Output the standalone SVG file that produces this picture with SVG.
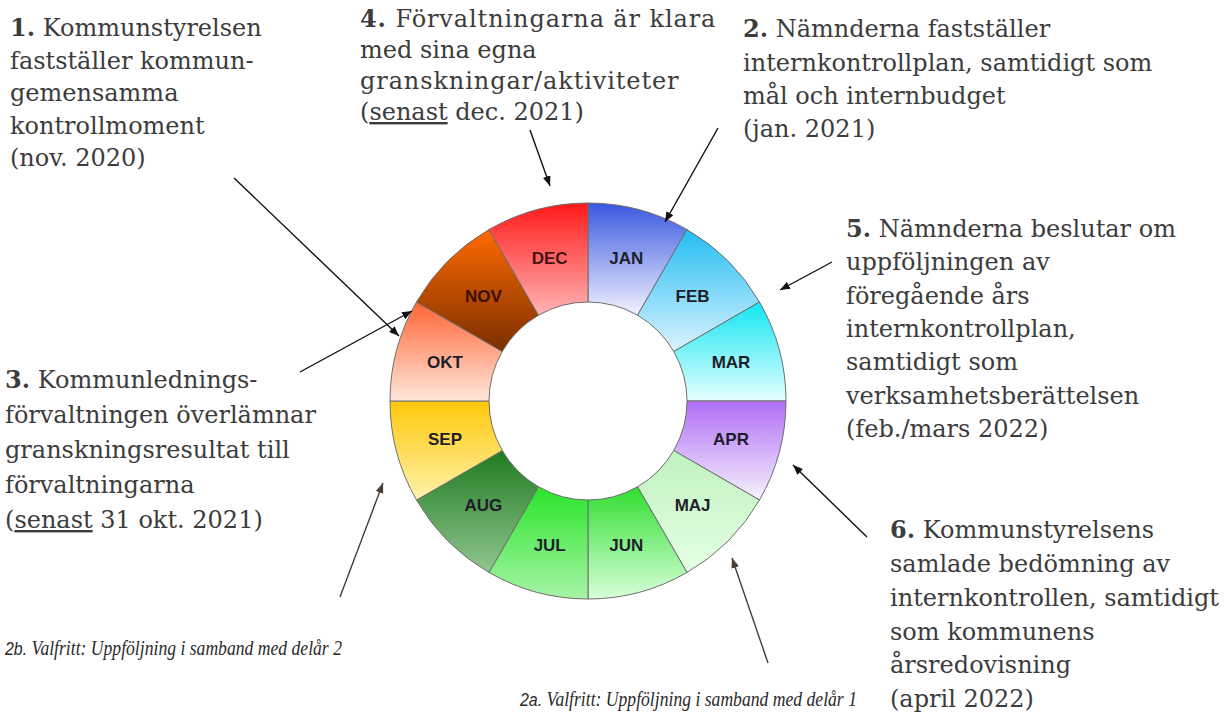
<svg xmlns="http://www.w3.org/2000/svg" width="1229" height="712" viewBox="0 0 1229 712">
<style>
.t{font-family:"DejaVu Serif","Liberation Serif",serif;font-size:24px;fill:#3c3c3c}
.b{font-weight:bold}
.u{text-decoration:underline}
.w{letter-spacing:0.9px}
.i{font-family:"Liberation Serif",serif;font-style:italic;font-size:21px;fill:#2a2a2a}
.is{font-family:"Liberation Sans",Arial,sans-serif;font-size:19px}
.m{font-family:"Liberation Sans",Arial,sans-serif;font-weight:bold;font-size:17px;fill:#1e1e2a;text-anchor:middle;dominant-baseline:central}
.seg{stroke:#6e6e6e;stroke-width:1}
.ar{fill:none;stroke:#111;stroke-width:1.4}
.ar2{fill:none;stroke:#4a3c34;stroke-width:1.4}
</style>
<defs>
<marker id="ah" viewBox="0 0 10 8" markerWidth="10" markerHeight="8" refX="10" refY="4" orient="auto" markerUnits="userSpaceOnUse"><path d="M0,0L10,4L0,8z" fill="#111"/></marker>
<marker id="ah2" viewBox="0 0 10 8" markerWidth="10" markerHeight="8" refX="10" refY="4" orient="auto" markerUnits="userSpaceOnUse"><path d="M0,0L10,4L0,8z" fill="#4a3c34"/></marker>
<linearGradient id="gJAN" x1="0" y1="0" x2="0" y2="1"><stop offset="0" stop-color="#3a58e0"/><stop offset="1" stop-color="#f2f2ff"/></linearGradient>
<linearGradient id="gFEB" x1="0" y1="0" x2="0" y2="1"><stop offset="0" stop-color="#22bdf2"/><stop offset="1" stop-color="#dcf3ff"/></linearGradient>
<linearGradient id="gMAR" x1="0" y1="0" x2="0" y2="1"><stop offset="0" stop-color="#10e6f2"/><stop offset="1" stop-color="#e8ffff"/></linearGradient>
<linearGradient id="gAPR" x1="0" y1="0" x2="0" y2="1"><stop offset="0" stop-color="#b06ef4"/><stop offset="1" stop-color="#f6f2ff"/></linearGradient>
<linearGradient id="gMAJ" x1="0" y1="0" x2="0" y2="1"><stop offset="0" stop-color="#c0f2c0"/><stop offset="1" stop-color="#e4ffe4"/></linearGradient>
<linearGradient id="gJUN" x1="0" y1="0" x2="0" y2="1"><stop offset="0" stop-color="#2fde2f"/><stop offset="1" stop-color="#daffda"/></linearGradient>
<linearGradient id="gJUL" x1="0" y1="0" x2="0" y2="1"><stop offset="0" stop-color="#28e428"/><stop offset="1" stop-color="#a8f4a8"/></linearGradient>
<linearGradient id="gAUG" x1="0" y1="0" x2="0" y2="1"><stop offset="0" stop-color="#1f7a1f"/><stop offset="1" stop-color="#90c690"/></linearGradient>
<linearGradient id="gSEP" x1="0" y1="0" x2="0" y2="1"><stop offset="0" stop-color="#ffc80a"/><stop offset="1" stop-color="#fff2aa"/></linearGradient>
<linearGradient id="gOKT" x1="0" y1="0" x2="0" y2="1"><stop offset="0" stop-color="#ff6434"/><stop offset="1" stop-color="#ffe8dc"/></linearGradient>
<linearGradient id="gNOV" x1="0" y1="0" x2="0" y2="1"><stop offset="0" stop-color="#ff6a00"/><stop offset="1" stop-color="#7a2e00"/></linearGradient>
<linearGradient id="gDEC" x1="0" y1="0" x2="0" y2="1"><stop offset="0" stop-color="#ff1818"/><stop offset="1" stop-color="#ffb4b4"/></linearGradient>
</defs>
<rect width="1229" height="712" fill="#fff"/>
<g id="wheel">
<g id="m-jan"><path class="seg" fill="url(#gJAN)" d="M588,203A198,198 0 0 1 687,229.53L637.5,315.26A99,99 0 0 0 588,302Z"/><text class="m" x="626.3" y="258">JAN</text></g>
<g id="m-feb"><path class="seg" fill="url(#gFEB)" d="M687,229.53A198,198 0 0 1 759.47,302L673.74,351.5A99,99 0 0 0 637.5,315.26Z"/><text class="m" x="692.6" y="296.4">FEB</text></g>
<g id="m-mar"><path class="seg" fill="url(#gMAR)" d="M759.47,302A198,198 0 0 1 786,401L687,401A99,99 0 0 0 673.74,351.5Z"/><text class="m" x="731" y="362.7">MAR</text></g>
<g id="m-apr"><path class="seg" fill="url(#gAPR)" d="M786,401A198,198 0 0 1 759.47,500L673.74,450.5A99,99 0 0 0 687,401Z"/><text class="m" x="731" y="439.3">APR</text></g>
<g id="m-maj"><path class="seg" fill="url(#gMAJ)" d="M759.47,500A198,198 0 0 1 687,572.47L637.5,486.74A99,99 0 0 0 673.74,450.5Z"/><text class="m" x="692.6" y="505.6">MAJ</text></g>
<g id="m-jun"><path class="seg" fill="url(#gJUN)" d="M687,572.47A198,198 0 0 1 588,599L588,500A99,99 0 0 0 637.5,486.74Z"/><text class="m" x="626.3" y="545">JUN</text></g>
<g id="m-jul"><path class="seg" fill="url(#gJUL)" d="M588,599A198,198 0 0 1 489,572.47L538.5,486.74A99,99 0 0 0 588,500Z"/><text class="m" x="549.7" y="545">JUL</text></g>
<g id="m-aug"><path class="seg" fill="url(#gAUG)" d="M489,572.47A198,198 0 0 1 416.53,500L502.26,450.5A99,99 0 0 0 538.5,486.74Z"/><text class="m" x="483.4" y="505.6">AUG</text></g>
<g id="m-sep"><path class="seg" fill="url(#gSEP)" d="M416.53,500A198,198 0 0 1 390,401L489,401A99,99 0 0 0 502.26,450.5Z"/><text class="m" x="445" y="439.3">SEP</text></g>
<g id="m-okt"><path class="seg" fill="url(#gOKT)" d="M390,401A198,198 0 0 1 416.53,302L502.26,351.5A99,99 0 0 0 489,401Z"/><text class="m" x="445" y="362.7">OKT</text></g>
<g id="m-nov"><path class="seg" fill="url(#gNOV)" d="M416.53,302A198,198 0 0 1 489,229.53L538.5,315.26A99,99 0 0 0 502.26,351.5Z"/><text class="m" x="483.4" y="296.4" style="fill:#3a0e04">NOV</text></g>
<g id="m-dec"><path class="seg" fill="url(#gDEC)" d="M489,229.53A198,198 0 0 1 588,203L588,302A99,99 0 0 0 538.5,315.26Z"/><text class="m" x="549.7" y="258" style="fill:#4a1212">DEC</text></g>
</g>
<g id="connectors">
<line class="ar" x1="234" y1="178" x2="399" y2="336" marker-end="url(#ah)"/>
<line class="ar" x1="300" y1="372" x2="412" y2="311" marker-end="url(#ah)"/>
<line class="ar" x1="530" y1="130" x2="550" y2="186" marker-end="url(#ah)"/>
<line class="ar" x1="718" y1="128" x2="665" y2="222" marker-end="url(#ah)"/>
<line class="ar" x1="832" y1="262" x2="780" y2="290" marker-end="url(#ah)"/>
<line class="ar" x1="867" y1="537" x2="793" y2="465" marker-end="url(#ah)"/>
<line class="ar2" x1="768" y1="663" x2="732" y2="558" marker-end="url(#ah2)"/>
<line class="ar2" x1="340" y1="597" x2="383" y2="483" marker-end="url(#ah2)"/>
</g>
<g id="step1"><text class="t" x="10" y="36"><tspan class="b">1.</tspan> Kommunstyrelsen</text><text class="t" x="10" y="68.5">fastställer kommun-</text><text class="t" x="10" y="101">gemensamma</text><text class="t" x="10" y="133.5">kontrollmoment</text><text class="t" x="10" y="166">(nov. 2020)</text></g>
<g id="step4"><text class="t w" x="360" y="27"><tspan class="b">4.</tspan> Förvaltningarna är klara</text><text class="t" x="360" y="58">med sina egna</text><text class="t w" x="360" y="89">granskningar/aktiviteter</text><text class="t" x="360" y="120">(<tspan class="u">senast</tspan> dec. 2021)</text></g>
<g id="step2"><text class="t" x="743" y="37"><tspan class="b">2.</tspan> Nämnderna fastställer</text><text class="t" x="743" y="71">internkontrollplan, samtidigt som</text><text class="t" x="743" y="104">mål och internbudget</text><text class="t" x="743" y="137">(jan. 2021)</text></g>
<g id="step5"><text class="t" x="846" y="237"><tspan class="b">5.</tspan> Nämnderna beslutar om</text><text class="t" x="846" y="270">uppföljningen av</text><text class="t" x="846" y="304">föregående års</text><text class="t" x="846" y="337">internkontrollplan,</text><text class="t" x="846" y="370">samtidigt som</text><text class="t" x="846" y="404">verksamhetsberättelsen</text><text class="t" x="846" y="437">(feb./mars 2022)</text></g>
<g id="step3"><text class="t" x="5" y="388"><tspan class="b">3.</tspan> Kommunlednings-</text><text class="t" x="5" y="423">förvaltningen överlämnar</text><text class="t" x="5" y="458">granskningsresultat till</text><text class="t" x="5" y="493">förvaltningarna</text><text class="t" x="5" y="528">(<tspan class="u">senast</tspan> 31 okt. 2021)</text></g>
<g id="step6"><text class="t" x="890" y="538"><tspan class="b">6.</tspan> Kommunstyrelsens</text><text class="t" x="890" y="572">samlade bedömning av</text><text class="t" x="890" y="606">internkontrollen, samtidigt</text><text class="t" x="890" y="640">som kommunens</text><text class="t" x="890" y="673">årsredovisning</text><text class="t" x="890" y="707">(april 2022)</text></g>
<g id="step2b" transform="translate(5,655) scale(0.84,1)"><text class="i" x="0" y="0"><tspan class="is">2b.</tspan> Valfritt: Uppföljning i samband med delår 2</text></g>
<g id="step2a" transform="translate(520,706) scale(0.84,1)"><text class="i" x="0" y="0"><tspan class="is">2a.</tspan> Valfritt: Uppföljning i samband med delår 1</text></g>
</svg>
